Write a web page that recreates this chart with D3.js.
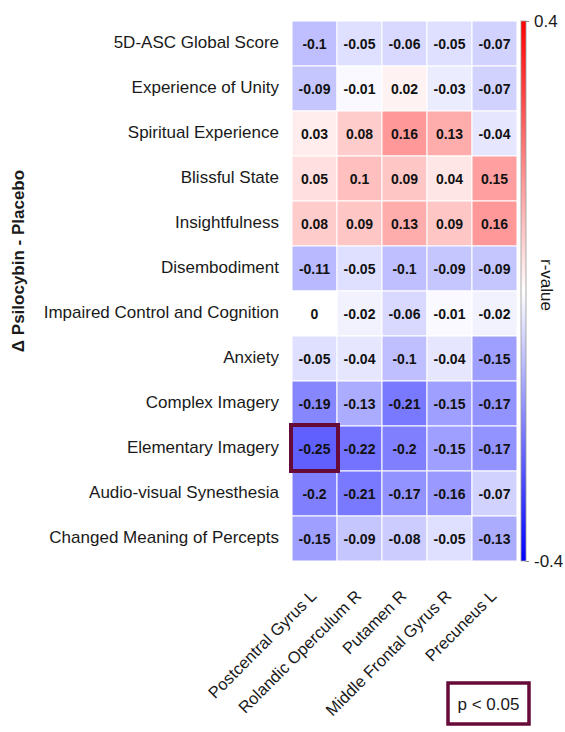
<!DOCTYPE html>
<html>
<head>
<meta charset="utf-8">
<script src="https://cdn.jsdelivr.net/npm/d3@7"></script>
<style>
  html, body { margin: 0; padding: 0; background: #fff; }
  svg { display: block; font-family: "Liberation Sans", Arial, sans-serif; }
</style>
</head>
<body>
<svg id="chart" width="565" height="732"></svg>
<script>
// 5D-ASC dimensions (rows) and brain regions (columns)
const dimensions = [
  "5D-ASC Global Score",
  "Experience of Unity",
  "Spiritual Experience",
  "Blissful State",
  "Insightfulness",
  "Disembodiment",
  "Impaired Control and Cognition",
  "Anxiety",
  "Complex Imagery",
  "Elementary Imagery",
  "Audio-visual Synesthesia",
  "Changed Meaning of Percepts"
];
const regions = [
  "Postcentral Gyrus L",
  "Rolandic Operculum R",
  "Putamen R",
  "Middle Frontal Gyrus R",
  "Precuneus L"
];
// correlation r-values, one array per row
const rGlobal      = [-0.1, -0.05, -0.06, -0.05, -0.07];
const rUnity       = [-0.09, -0.01, 0.02, -0.03, -0.07];
const rSpiritual   = [0.03, 0.08, 0.16, 0.13, -0.04];
const rBlissful    = [0.05, 0.1, 0.09, 0.04, 0.15];
const rInsight     = [0.08, 0.09, 0.13, 0.09, 0.16];
const rDisembody   = [-0.11, -0.05, -0.1, -0.09, -0.09];
const rImpaired    = [0, -0.02, -0.06, -0.01, -0.02];
const rAnxiety     = [-0.05, -0.04, -0.1, -0.04, -0.15];
const rComplex     = [-0.19, -0.13, -0.21, -0.15, -0.17];
const rElementary  = [-0.25, -0.22, -0.2, -0.15, -0.17];
const rSynesthesia = [-0.2, -0.21, -0.17, -0.16, -0.07];
const rMeaning     = [-0.15, -0.09, -0.08, -0.05, -0.13];
const rows = [rGlobal, rUnity, rSpiritual, rBlissful, rInsight, rDisembody,
              rImpaired, rAnxiety, rComplex, rElementary, rSynesthesia, rMeaning];
// cells with p < 0.05: [row, column]
const significant = [["Elementary Imagery", "Postcentral Gyrus L"]];
const colorTicks = [-0.4, 0.4];
const titleY = "\u0394 Psilocybin - Placebo";
const titleColor = "r-value";

const cells = [];
rows.forEach((vals, i) => vals.forEach((v, j) => cells.push({ row: dimensions[i], col: regions[j], v })));

const svg = d3.select("#chart");
const gLeft = 292, gRight = 517, gTop = 21, gBottom = 561;

const x = d3.scaleBand().domain(regions).range([gLeft, gRight]);
const y = d3.scaleBand().domain(dimensions).range([gTop, gBottom]);
const color = d3.scaleLinear().domain([-0.4, 0, 0.4]).range(["#0000ff", "#ffffff", "#ff0000"]);

// heatmap cells
svg.append("g").selectAll("rect").data(cells).join("rect")
  .attr("x", d => x(d.col)).attr("y", d => y(d.row))
  .attr("width", x.bandwidth()).attr("height", y.bandwidth())
  .attr("fill", d => color(d.v))
  .attr("stroke", "#ffffff").attr("stroke-width", 1);

// cell values
svg.append("g").selectAll("text").data(cells).join("text")
  .attr("x", d => x(d.col) + x.bandwidth() / 2)
  .attr("y", d => y(d.row) + y.bandwidth() / 2)
  .attr("text-anchor", "middle").attr("dominant-baseline", "central")
  .attr("font-size", 14).attr("font-weight", "bold").attr("fill", "#111")
  .text(d => String(d.v));

// significance outline
svg.append("g").selectAll("rect").data(significant).join("rect")
  .attr("x", d => x(d[1]) - 1).attr("y", d => y(d[0]) - 1)
  .attr("width", x.bandwidth() + 2).attr("height", y.bandwidth() + 1)
  .attr("fill", "none").attr("stroke", "#660a38").attr("stroke-width", 4);

// row labels
svg.append("g").selectAll("text").data(dimensions).join("text")
  .attr("x", 279).attr("y", d => y(d) + y.bandwidth() / 2 - 1)
  .attr("text-anchor", "end").attr("dominant-baseline", "central")
  .attr("font-size", 17).attr("fill", "#1a1a1a")
  .text(d => d);

// column labels, rotated
svg.append("g").selectAll("text").data(regions).join("text")
  .attr("transform", d => `translate(${x(d) + x.bandwidth() / 2 + 3},${597}) rotate(-45)`)
  .attr("text-anchor", "end")
  .attr("font-size", 16.5).attr("fill", "#1a1a1a")
  .text(d => d);

// y axis title
svg.append("text")
  .attr("transform", "translate(24,261) rotate(-90)")
  .attr("text-anchor", "middle")
  .attr("font-size", 17).attr("font-weight", "bold").attr("fill", "#1a1a1a")
  .text(titleY);

// colorbar
const defs = svg.append("defs");
const grad = defs.append("linearGradient").attr("id", "rgrad")
  .attr("x1", 0).attr("y1", 1).attr("x2", 0).attr("y2", 0);
d3.range(0, 1.0001, 0.1).forEach(t => {
  grad.append("stop").attr("offset", t).attr("stop-color", color(-0.4 + 0.8 * t));
});
const cbY = d3.scaleLinear().domain([-0.4, 0.4]).range([gBottom, gTop]);
svg.append("rect")
  .attr("x", 521).attr("y", gTop).attr("width", 5).attr("height", gBottom - gTop)
  .attr("fill", "url(#rgrad)").attr("stroke", "#999").attr("stroke-width", 0.8);

const cbAxis = svg.append("g").attr("transform", "translate(526,0)")
  .call(d3.axisRight(cbY).tickValues(colorTicks).tickSize(3).tickPadding(5).tickFormat(d => String(d)));
cbAxis.select(".domain").remove();
cbAxis.selectAll("line").attr("stroke", "#888");
cbAxis.selectAll("text").attr("font-size", 17).attr("fill", "#1a1a1a")
  .attr("font-family", "'Liberation Sans', Arial, sans-serif");

svg.append("text")
  .attr("transform", "translate(541,285) rotate(90)")
  .attr("text-anchor", "middle")
  .attr("font-size", 17).attr("fill", "#1a1a1a")
  .text(titleColor);

// legend
const lg = svg.append("g");
lg.append("rect").attr("x", 448).attr("y", 683).attr("width", 81).attr("height", 41)
  .attr("fill", "#fff").attr("stroke", "#660a38").attr("stroke-width", 3.5);
lg.append("text").attr("x", 488.5).attr("y", 704)
  .attr("text-anchor", "middle").attr("dominant-baseline", "central")
  .attr("font-size", 17).attr("fill", "#1a1a1a")
  .text("p < 0.05");
</script>
</body>
</html>
